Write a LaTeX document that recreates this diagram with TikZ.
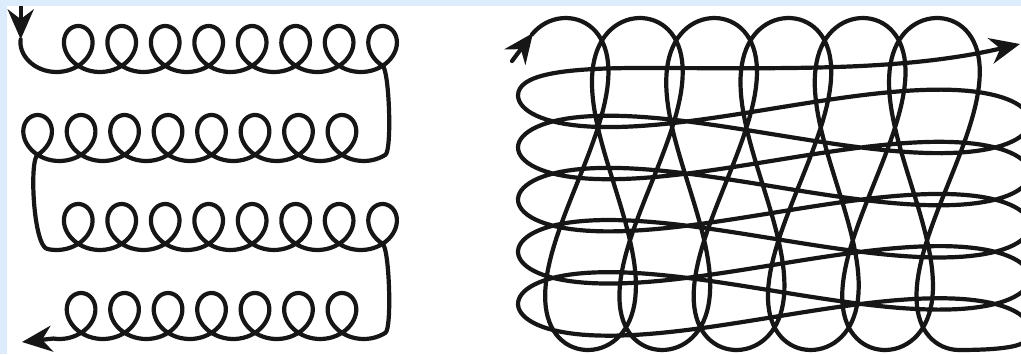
\documentclass[tikz,border=0pt]{standalone}
\usepackage{tikz}
\usetikzlibrary{arrows.meta}
\definecolor{paneblue}{HTML}{DCECFC}
\definecolor{inkblack}{HTML}{161616}

\begin{document}
\begin{tikzpicture}[x=1pt,y=-1pt,
  coil/.style={inkblack,line width=4.2pt,line cap=round,line join=round},
  tip/.style={-{Stealth[length=30pt,width=26pt]}}]
  \useasboundingbox (0,0) rectangle (1021,354);
  \fill[paneblue] (0,0) rectangle (1021,354);
  \fill[white] (7,6) rectangle (1021,354);
  \clip (7,6) rectangle (1021,354);

  % left: rows of curls
  \draw[coil,tip] (20.7,0) -- (20.7,39.4);
  \draw[coil,tip] plot[domain=-2:49.515,samples=420] ({56.5+6.92*\x+24.2*sin(\x r)},{49+23*cos(\x r)})
    .. controls (389.3,70.1) and (392.1,150.5) .. (385.4,154.8)
    -- plot[domain=-0.75:49.515,samples=400] ({363.7-6.92*\x-24.2*sin(\x r)},{138+23*cos(\x r)})
    .. controls (29.2,160.2) and (33.3,245.8) .. (47.3,249)
    -- plot[domain=-0.3:49.515,samples=400] ({56.5+6.92*\x+24.2*sin(\x r)},{227+23*cos(\x r)})
    .. controls (389.3,248.1) and (392.1,328.5) .. (385.4,332.8)
    -- plot[domain=-0.75:44.18,samples=360] ({363.7-6.92*\x-24.2*sin(\x r)},{316+23*cos(\x r)})
    -- (22,342);

  % right: tangled loops
  \draw[coil,tip] (512,61) -- (533,33);
  \draw[coil,tip] plot[domain=-6.733:28.274,samples=700] ({632.5+11.82*\x+35.5*sin(2*\x r)+7.5*cos(\x r)},{184-166*cos(\x r)})
    .. controls (985,350) and (1018.1,348.6) .. (1024.9,341.3)
    -- plot[domain=-0.2:28.274,samples=600] ({774+256*cos(\x r)},{330-8.3*\x-24.9*sin(2*\x r)})
    .. controls (518,75) and (560,68) .. (640,68)
    .. controls (780,68) and (900,72) .. (1020,44);
\end{tikzpicture}
\end{document}
